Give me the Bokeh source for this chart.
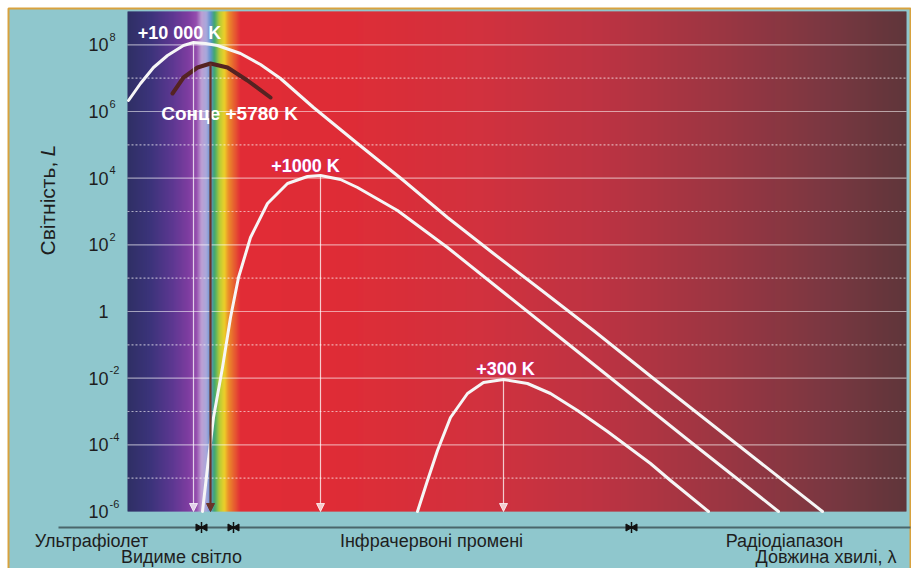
import numpy as np
from bokeh.plotting import figure
from bokeh.models import Range1d, Arrow, NormalHead
from bokeh.core.properties import value
from bokeh.embed import file_html
from bokeh.resources import INLINE

# ---------------- data (x: position along the wavelength axis, lg: log10 of luminosity) ----------------
t10000_x = [128, 140, 153, 167, 183, 193, 205, 217, 240, 260, 280, 313, 357, 403, 447, 493, 540, 593, 653, 733, 822]
t10000_lg = [6.33, 6.84, 7.32, 7.68, 7.98, 8.07, 8.04, 7.98, 7.74, 7.41, 6.99, 6.12, 5.04, 3.93, 2.82, 1.74, 0.66, -0.57, -2.01, -3.90, -6.0]

sun_x = [172, 183, 197, 210, 227, 247, 270]
sun_lg = [6.54, 7.02, 7.32, 7.44, 7.32, 6.93, 6.42]

t1000_x = [202, 207, 213, 222, 230, 238, 250, 267, 287, 307, 320, 340, 357, 397, 447, 497, 547, 607, 687, 778]
t1000_lg = [-6.0, -4.68, -3.18, -1.68, -0.18, 1.02, 2.22, 3.24, 3.84, 4.05, 4.08, 3.96, 3.72, 3.03, 1.92, 0.72, -0.48, -1.92, -3.84, -6.0]

t300_x = [417, 427, 437, 450, 467, 483, 503, 527, 550, 577, 607, 650, 670, 708]
t300_lg = [-6.0, -5.07, -4.17, -3.18, -2.46, -2.13, -2.04, -2.16, -2.46, -2.97, -3.6, -4.56, -5.07, -6.0]

tick_lg = [8, 6, 4, 2, 0, -2, -4, -6]
tick_base = ["10", "10", "10", "10", "1", "10", "10", "10"]
tick_exp = ["8", "6", "4", "2", "", "-2", "-4", "-6"]
grid_solid_lg = [8, 6, 4, 2, 0, -2, -4]
grid_dash_lg = [7, 5, 3, 1, -1, -3, -5]

band_names_row1 = ["Ультрафіолет", "Інфрачервоні промені", "Радіодіапазон"]
band_x_row1 = [91, 431, 784]
band_names_row2 = ["Видиме світло"]
band_x_row2 = [181]
band_bounds = [201, 233, 631]

# background spectrum stops
bg_stop_x = [127, 150, 172, 188, 196, 201, 206, 210, 214, 219, 224, 228, 240, 350, 480, 600, 720, 830, 906]
bg_stop_color = ["#2a2860", "#372c76", "#5a308e", "#7e369e", "#9548ac", "#c09ed4", "#a9a6dc", "#5f90d0",
                 "#3aa66a", "#b8cc30", "#f2d020", "#f08a22", "#e6242e", "#e2252f", "#d52a37", "#bf2c3b",
                 "#9c2f3b", "#78303a", "#5d2f33"]

# ---------------- styles / layout ----------------
TEAL = "#8fc7cd"
GOLD = "#d8a23e"
W, H = 911, 568
X0, X1 = 0, 911
LG_MIN, LG_MAX = -7.71, 9.33
PANEL_L, PANEL_R, PANEL_TOP = 8, 910, 9.09
PLOT_L, PLOT_R = 127, 906
LG_TOP = 9.0
LG_BOTTOM = -6.0
FONT = value("Liberation Sans")

p = figure(width=W, height=H, output_backend="svg", toolbar_location=None,
           x_range=Range1d(X0, X1), y_range=Range1d(10 ** LG_MIN, 10 ** LG_MAX),
           y_axis_type="log", min_border=0,
           background_fill_color="white", border_fill_color="white")
p.axis.visible = False
p.grid.visible = False
p.outline_line_color = None

# teal panel with golden frame
p.quad(left=[PANEL_L], right=[PANEL_R], top=[10 ** PANEL_TOP], bottom=[10 ** (LG_MIN - 1)],
       fill_color=TEAL, line_color=GOLD, line_width=2)


def hex2rgb(h):
    return [int(h[i:i + 2], 16) for i in (1, 3, 5)]


stops = np.array([hex2rgb(c) for c in bg_stop_color], dtype=float)
qx = np.arange(PLOT_L, PLOT_R, 1.0)
qcols = []
for xx in qx:
    rgb = [int(round(np.interp(xx + 0.5, bg_stop_x, stops[:, k]))) for k in range(3)]
    qcols.append("#%02x%02x%02x" % tuple(rgb))
p.quad(left=qx, right=np.minimum(qx + 1.4, PLOT_R), bottom=10 ** LG_BOTTOM, top=10 ** LG_TOP,
       fill_color=qcols, line_color=None)

# grid lines
gs = np.array(grid_solid_lg, dtype=float)
p.segment(x0=PLOT_L, x1=PLOT_R, y0=10 ** gs, y1=10 ** gs, line_color="white", line_alpha=0.55, line_width=1.2)
gd = np.array(grid_dash_lg, dtype=float)
p.segment(x0=PLOT_L, x1=PLOT_R, y0=10 ** gd, y1=10 ** gd, line_color="white", line_alpha=0.6,
          line_width=1.2, line_dash="2 2")

# curves
for cx, clg, col, lw in [(t10000_x, t10000_lg, "#f6f6f6", 3),
                         (t1000_x, t1000_lg, "#f6f6f6", 3),
                         (t300_x, t300_lg, "#f6f6f6", 3),
                         (sun_x, sun_lg, "#552322", 4)]:
    p.line(x=cx, y=10 ** np.array(clg), line_color=col, line_width=lw, line_cap="round", line_join="round")

# arrows from peaks
for cx, clg, col, lw, alpha in [(t10000_x, t10000_lg, "white", 1.2, 0.75),
                                (t1000_x, t1000_lg, "white", 1.2, 0.75),
                                (t300_x, t300_lg, "white", 1.2, 0.75),
                                (sun_x, sun_lg, "#6a3328", 2.2, 1.0)]:
    i = int(np.argmax(clg))
    p.add_layout(Arrow(x_start=cx[i], y_start=10 ** clg[i], x_end=cx[i], y_end=10 ** LG_BOTTOM,
                       line_color=col, line_width=lw, line_alpha=alpha,
                       end=NormalHead(size=8, fill_color=col, line_color=col, fill_alpha=alpha, line_alpha=alpha)))

# curve labels
p.text(x=[179], y=[10 ** 8.37], text=["+10 000 K"], text_font=FONT, text_font_style="bold",
       text_font_size="18px", text_color="white", text_align="center", text_baseline="middle")
p.text(x=[229], y=[10 ** 5.94], text=["Сонце +5780 K"], text_font=FONT, text_font_style="bold",
       text_font_size="19px", text_color="white", text_align="center", text_baseline="middle")
glow_x = [305, 505]
glow_y = [10 ** 4.38, 10 ** -1.71]
glow_t = ["+1000 K", "+300 K"]
p.text(x=glow_x, y=glow_y, text=glow_t, text_font=FONT,
       text_font_style="bold", text_font_size="18px", text_color="#d3208c", text_align="center",
       text_baseline="middle", text_outline_color="#d3208c")
p.text(x=glow_x, y=glow_y, text=glow_t, text_font=FONT,
       text_font_style="bold", text_font_size="18px", text_color="white", text_align="center",
       text_baseline="middle")

# y tick labels
tl = np.array(tick_lg, dtype=float)
p.text(x=[108] * len(tl), y=10 ** tl, text=tick_base, text_font=FONT, text_font_size="18px",
       text_color="#1e1e1e", text_align="right", text_baseline="middle")
ex_y = [10 ** t for t, e in zip(tick_lg, tick_exp) if e]
ex_t = [e for e in tick_exp if e]
p.text(x=[109] * len(ex_t), y=ex_y, text=ex_t, text_font=FONT, text_font_size="11px",
       text_color="#1e1e1e", text_align="left", text_baseline="middle", y_offset=-8)

# y axis title
p.text(x=[47], y=[10 ** 1.68], text=["Світність,"], text_font=FONT, text_font_size="21px",
       text_color="#1e1e1e", text_align="left", text_baseline="middle", angle=np.pi / 2)
p.text(x=[47], y=[10 ** 4.65], text=["L"], text_font=FONT, text_font_style="italic", text_font_size="21px",
       text_color="#1e1e1e", text_align="left", text_baseline="middle", angle=np.pi / 2)

# wavelength axis strip
AX_LG = -6.48
p.segment(x0=[58], x1=[PANEL_R], y0=[10 ** AX_LG], y1=[10 ** AX_LG], line_color="#3e5559", line_width=2,
          line_alpha=0.85)
bb = np.array(band_bounds, dtype=float)
p.scatter(x=bb - 3.5, y=[10 ** AX_LG] * len(bb), marker="triangle", angle=-np.pi / 2, size=7,
          fill_color="#111111", line_color="#111111")
p.scatter(x=bb + 3.5, y=[10 ** AX_LG] * len(bb), marker="triangle", angle=np.pi / 2, size=7,
          fill_color="#111111", line_color="#111111")
p.scatter(x=bb, y=[10 ** AX_LG] * len(bb), marker="dash", angle=np.pi / 2, size=11,
          line_color="#111111", line_width=1.5)

p.text(x=band_x_row1, y=[10 ** -6.87] * len(band_x_row1), text=band_names_row1, text_font=FONT,
       text_font_size="18px", text_color="#1e1e1e", text_align="center", text_baseline="middle")
p.text(x=band_x_row2, y=[10 ** -7.37], text=band_names_row2, text_font=FONT,
       text_font_size="18px", text_color="#1e1e1e", text_align="center", text_baseline="middle")
p.text(x=[896], y=[10 ** -7.37], text=["Довжина хвилі, λ"], text_font=FONT,
       text_font_size="18px", text_color="#1e1e1e", text_align="right", text_baseline="middle")

open("out.html", "w").write(file_html(p, INLINE))
